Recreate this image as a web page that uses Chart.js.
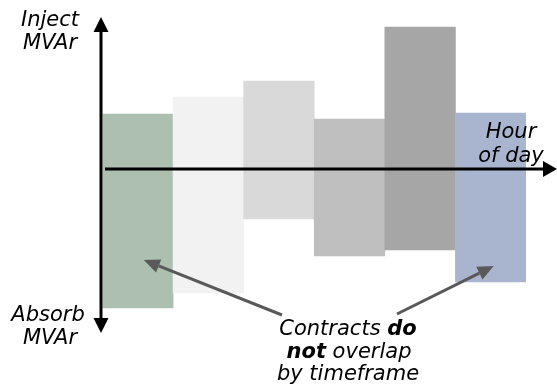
<!DOCTYPE html>
<html>
<head>
<meta charset="utf-8">
<script src="https://cdn.jsdelivr.net/npm/chart.js@4/dist/chart.umd.min.js"></script>
<style>
  html, body { margin: 0; padding: 0; background: #fff; }
  #wrap { width: 557px; height: 390px; }
</style>
</head>
<body>
<div id="wrap"><canvas id="chart" width="557" height="390"></canvas></div>
<script>
// contracts per timeframe: [absorb (low), inject (high)]
const slots = ['1', '2', '3', '4', '5', '6'];
const absorb = [-13.9, -12.4, -5.0, -8.7, -8.1, -11.3];
const inject = [5.5, 7.2, 8.8, 5.0, 14.2, 5.6];
const colors = ['#adbfae', '#f2f2f2', '#d9d9d9', '#bfbfbf', '#a6a6a6', '#a9b5cf'];

const FONT = '"DejaVu Sans", Verdana, sans-serif';

function arrow(ctx, x1, y1, x2, y2, len, half, color, width) {
  const a = Math.atan2(y2 - y1, x2 - x1);
  const bx = x2 - len * Math.cos(a), by = y2 - len * Math.sin(a);
  ctx.save();
  ctx.strokeStyle = color;
  ctx.fillStyle = color;
  ctx.lineWidth = width;
  ctx.beginPath();
  ctx.moveTo(x1, y1);
  ctx.lineTo(bx, by);
  ctx.stroke();
  ctx.beginPath();
  ctx.moveTo(x2, y2);
  ctx.lineTo(bx + half * Math.sin(a), by - half * Math.cos(a));
  ctx.lineTo(bx - half * Math.sin(a), by + half * Math.cos(a));
  ctx.closePath();
  ctx.fill();
  ctx.restore();
}

// one line of mixed italic / bold-italic text, centred on cx
function richLine(ctx, parts, cx, y) {
  const fonts = parts.map(p => (p.b ? 'italic bold ' : 'italic ') + '21px ' + FONT);
  let total = 0;
  parts.forEach((p, i) => { ctx.font = fonts[i]; total += ctx.measureText(p.t).width; });
  let x = cx - total / 2;
  parts.forEach((p, i) => {
    ctx.font = fonts[i];
    ctx.fillText(p.t, x, y);
    x += ctx.measureText(p.t).width;
  });
}

const overlay = {
  id: 'overlay',
  afterDatasetsDraw(chart) {
    const { ctx, chartArea, scales } = chart;
    const y0 = scales.y.getPixelForValue(0);
    const ax = chartArea.left - 1.5;

    // vertical axis, both directions
    arrow(ctx, ax, y0, ax, 17, 15, 7.5, '#000', 3);
    arrow(ctx, ax, y0, ax, 333, 15, 7.5, '#000', 3);
    // time axis
    arrow(ctx, 105, y0, 557, y0, 14, 8, '#000', 3);

    // callout arrows to first and last contract
    const xl = scales.x.getPixelForValue(0);
    const xr = scales.x.getPixelForValue(5);
    arrow(ctx, 282, 315, xl + 6, 260, 16, 7, '#595959', 3);
    arrow(ctx, 397, 314, xr + 3, 266, 16, 7, '#595959', 3);

    ctx.save();
    ctx.fillStyle = '#000';
    ctx.textBaseline = 'alphabetic';
    ctx.textAlign = 'left';
    const c = (t, x, y) => richLine(ctx, [{ t }], x, y);
    c('Inject', 50, 26);
    c('MVAr', 50, 49);
    c('Absorb', 48, 321);
    c('MVAr', 50, 344);
    c('Hour', 511, 138);
    c('of day', 511, 162);
    richLine(ctx, [{ t: 'Contracts ' }, { t: 'do', b: true }], 348, 335);
    richLine(ctx, [{ t: 'not', b: true }, { t: ' overlap' }], 349, 358);
    c('by timeframe', 348, 380);
    ctx.restore();
  }
};

new Chart(document.getElementById('chart'), {
  type: 'bar',
  data: {
    labels: slots,
    datasets: [{
      data: slots.map((s, i) => [absorb[i], inject[i]]),
      backgroundColor: colors,
      borderWidth: 0,
      borderSkipped: false,
      barPercentage: 1,
      categoryPercentage: 1,
    }],
  },
  options: {
    responsive: false,
    animation: false,
    devicePixelRatio: 1,
    layout: { padding: { left: 102.5, right: 31, top: 19, bottom: 61 } },
    plugins: { legend: { display: false }, tooltip: { enabled: false } },
    scales: {
      x: { display: false },
      y: { display: false, min: -16, max: 15 },
    },
  },
  plugins: [overlay],
});
</script>
</body>
</html>
